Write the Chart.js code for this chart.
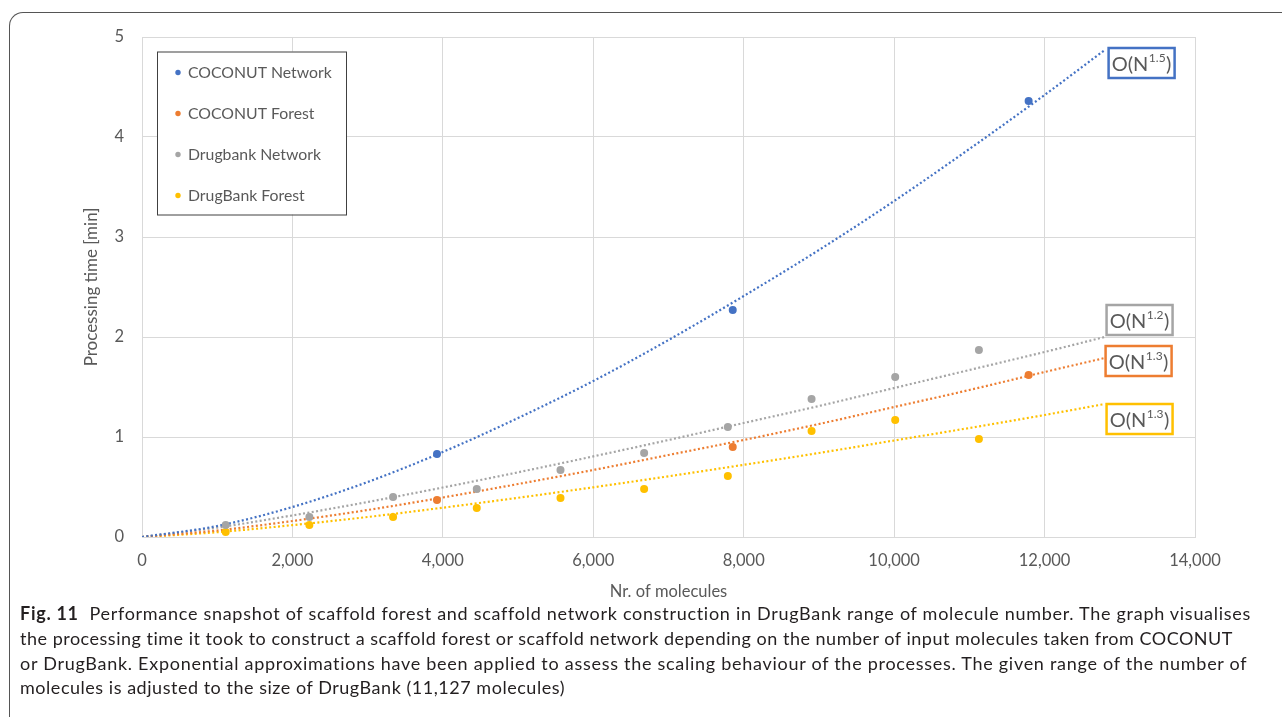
<!DOCTYPE html>
<html><head><meta charset="utf-8">
<script src="https://cdn.jsdelivr.net/npm/chart.js@4.4.1/dist/chart.umd.min.js"></script>
<style>
html,body{margin:0;padding:0;background:#fff;width:1282px;height:717px;overflow:hidden}
#frame{position:absolute;left:9px;top:12px;width:1300px;height:740px;border-left:1.5px solid #555;border-top:1.5px solid #555;border-top-left-radius:14px;box-sizing:border-box}
#wrap{position:absolute;left:0;top:0;width:1282px;height:717px}
#caption{position:absolute;left:20px;top:601px;font-family:Lato,"Open Sans",sans-serif;font-size:18px;color:#231f20;line-height:24.8px}
#caption div{white-space:nowrap}
#caption span.l{display:inline-block}
</style></head>
<body>
<div id="frame"></div>
<div id="wrap"><canvas id="c" width="1282" height="717"></canvas></div>
<div id="caption">
<div data-w="1230"><span class="l"><b>Fig. 11</b>&nbsp; Performance snapshot of scaffold forest and scaffold network construction in DrugBank range of molecule number. The graph visualises</span></div>
<div data-w="1212"><span class="l">the processing time it took to construct a scaffold forest or scaffold network depending on the number of input molecules taken from COCONUT</span></div>
<div data-w="1228"><span class="l">or DrugBank. Exponential approximations have been applied to assess the scaling behaviour of the processes. The given range of the number of</span></div>
<div data-w="545"><span class="l">molecules is adjusted to the size of DrugBank (11,127 molecules)</span></div>
</div>
<script>
// ---- data ----
const coconutX = [3922, 7854, 11788];
const coconutNetwork = [0.83, 2.27, 4.36];
const coconutForest = [0.37, 0.90, 1.62];
const drugbankX = [1113, 2225, 3338, 4451, 5564, 6676, 7789, 8902, 10014, 11127];
const drugbankNetwork = [0.12, 0.20, 0.40, 0.48, 0.67, 0.84, 1.10, 1.38, 1.60, 1.87];
const drugbankForest = [0.05, 0.12, 0.20, 0.29, 0.39, 0.48, 0.61, 1.06, 1.17, 0.98];
// trend lines (dotted)
const trendX = [0, 1000, 2000, 3000, 4000, 5000, 6000, 7000, 8000, 9000, 10000, 11000, 12000, 12800];
const trendCoconutNetwork = [0, 0.11, 0.30, 0.55, 0.85, 1.19, 1.56, 1.97, 2.41, 2.87, 3.36, 3.88, 4.42, 4.87];
const trendCoconutForest = [0, 0.065, 0.16, 0.27, 0.395, 0.53, 0.67, 0.82, 0.97, 1.13, 1.30, 1.47, 1.65, 1.79];
const trendDrugbankNetwork = [0, 0.094, 0.216, 0.35, 0.495, 0.647, 0.806, 0.97, 1.14, 1.31, 1.49, 1.67, 1.85, 2.0];
const trendDrugbankForest = [0, 0.048, 0.119, 0.20, 0.293, 0.392, 0.497, 0.607, 0.722, 0.84, 0.965, 1.09, 1.22, 1.33];
const xTicks = [0, 2000, 4000, 6000, 8000, 10000, 12000, 14000];
const yTicks = [0, 1, 2, 3, 4, 5];
const seriesNames = ['COCONUT Network', 'COCONUT Forest', 'Drugbank Network', 'DrugBank Forest'];
const seriesColors = ['#4472C4', '#ED7D31', '#A5A5A5', '#FFC000'];
const trendLabels = [
  {x: 13290, y: 4.74, exp: '1.5', color: '#4472C4'},
  {x: 13263, y: 2.17, exp: '1.2', color: '#A5A5A5'},
  {x: 13250, y: 1.76, exp: '1.3', color: '#ED7D31'},
  {x: 13263, y: 1.18, exp: '1.3', color: '#FFC000'}
];

// fit caption lines to the reference widths
document.querySelectorAll('#caption div').forEach(d => {
  const s = d.querySelector('span'); const target = +d.dataset.w;
  const w = s.getBoundingClientRect().width; const n = s.textContent.length;
  s.style.letterSpacing = ((target - w) / n).toFixed(3) + 'px';
});

const pts = (xs, ys) => xs.map((x, i) => ({x, y: ys[i]}));
const FONT = 'Lato, "Open Sans", sans-serif';
const TXT = '#595959';

function trendDs(ys, color) {
  return {type: 'line', data: pts(trendX, ys), borderColor: color, borderWidth: 2.2,
    borderDash: [2, 2.4], pointRadius: 0, fill: false, cubicInterpolationMode: 'monotone', order: 2};
}
function pointDs(label, xs, ys, color) {
  return {type: 'scatter', label, data: pts(xs, ys), backgroundColor: color, borderColor: color,
    pointRadius: 4, pointBorderWidth: 0, showLine: false, order: 1};
}

const legendPlugin = {
  id: 'boxLegend',
  afterDraw(chart) {
    const {ctx, chartArea} = chart;
    const L = chartArea.left + 15, T = chartArea.top + 14.5, W = 189, H = 163;
    ctx.save();
    ctx.fillStyle = '#fff';
    ctx.fillRect(L, T, W, H);
    ctx.strokeStyle = '#404040';
    ctx.lineWidth = 1;
    ctx.strokeRect(L + 0.5, T + 0.5, W, H);
    ctx.font = '15.8px ' + FONT;
    ctx.textBaseline = 'middle';
    seriesNames.forEach((n, i) => {
      const y = T + 21 + 41 * i;
      ctx.fillStyle = seriesColors[i];
      ctx.beginPath(); ctx.arc(L + 21, y, 2.7, 0, Math.PI * 2); ctx.fill();
      ctx.fillStyle = TXT;
      ctx.fillText(n, L + 31, y + 0.5);
    });
    ctx.restore();
  }
};

const labelPlugin = {
  id: 'trendLabels',
  afterDraw(chart) {
    const {ctx, scales} = chart;
    ctx.save();
    trendLabels.forEach(l => {
      const cx = scales.x.getPixelForValue(l.x), cy = scales.y.getPixelForValue(l.y);
      const big = '20px ' + FONT, small = '12px ' + FONT;
      ctx.font = big; const w1 = ctx.measureText('O(N').width; const w3 = ctx.measureText(')').width;
      ctx.font = small; const w2 = ctx.measureText(l.exp).width;
      const tw = w1 + w2 + w3 + 1, bw = 66, bh = 30;
      ctx.fillStyle = '#fff';
      ctx.fillRect(cx - bw / 2, cy - bh / 2, bw, bh);
      ctx.strokeStyle = l.color; ctx.lineWidth = 2.5;
      ctx.strokeRect(cx - bw / 2, cy - bh / 2, bw, bh);
      let x = cx - tw / 2;
      ctx.fillStyle = TXT; ctx.textBaseline = 'alphabetic';
      ctx.font = big; ctx.fillText('O(N', x, cy + 7.5); x += w1 + 0.5;
      ctx.font = small; ctx.fillText(l.exp, x, cy - 1.5); x += w2 + 0.5;
      ctx.font = big; ctx.fillText(')', x, cy + 7.5);
    });
    ctx.restore();
  }
};

new Chart(document.getElementById('c'), {
  data: {datasets: [
    pointDs(seriesNames[0], coconutX, coconutNetwork, seriesColors[0]),
    pointDs(seriesNames[1], coconutX, coconutForest, seriesColors[1]),
    pointDs(seriesNames[2], drugbankX, drugbankNetwork, seriesColors[2]),
    pointDs(seriesNames[3], drugbankX, drugbankForest, seriesColors[3]),
    trendDs(trendCoconutNetwork, seriesColors[0]),
    trendDs(trendCoconutForest, seriesColors[1]),
    trendDs(trendDrugbankNetwork, seriesColors[2]),
    trendDs(trendDrugbankForest, seriesColors[3])
  ]},
  options: {
    responsive: false, animation: false, devicePixelRatio: 1,
    layout: {padding: {left: 0, top: 37, right: 87, bottom: 110}},
    plugins: {legend: {display: false}, tooltip: {enabled: false}},
    scales: {
      x: {type: 'linear', min: 0, max: 14000,
        afterBuildTicks: s => { s.ticks = xTicks.map(v => ({value: v})); },
        afterFit: s => { s.height = 70; },
        ticks: {color: TXT, font: {family: FONT, size: 16.5}, padding: 14,
          callback: v => v.toLocaleString('en-US')},
        grid: {color: '#D9D9D9', drawTicks: false},
        border: {color: '#D9D9D9'},
        title: {display: true, text: 'Nr. of molecules', color: TXT, font: {family: FONT, size: 16.5}, padding: {bottom: 5}}
      },
      y: {type: 'linear', min: 0, max: 5,
        afterBuildTicks: s => { s.ticks = yTicks.map(v => ({value: v})); },
        afterFit: s => { s.width = 142; },
        ticks: {color: TXT, font: {family: FONT, size: 16.5}, padding: 18},
        grid: {color: '#D9D9D9', drawTicks: false},
        border: {color: '#D9D9D9'},
        title: {display: true, text: 'Processing time [min]', color: TXT, font: {family: FONT, size: 17}, padding: {top: 81}}
      }
    }
  },
  plugins: [legendPlugin, labelPlugin]
});
</script>
</body></html>
